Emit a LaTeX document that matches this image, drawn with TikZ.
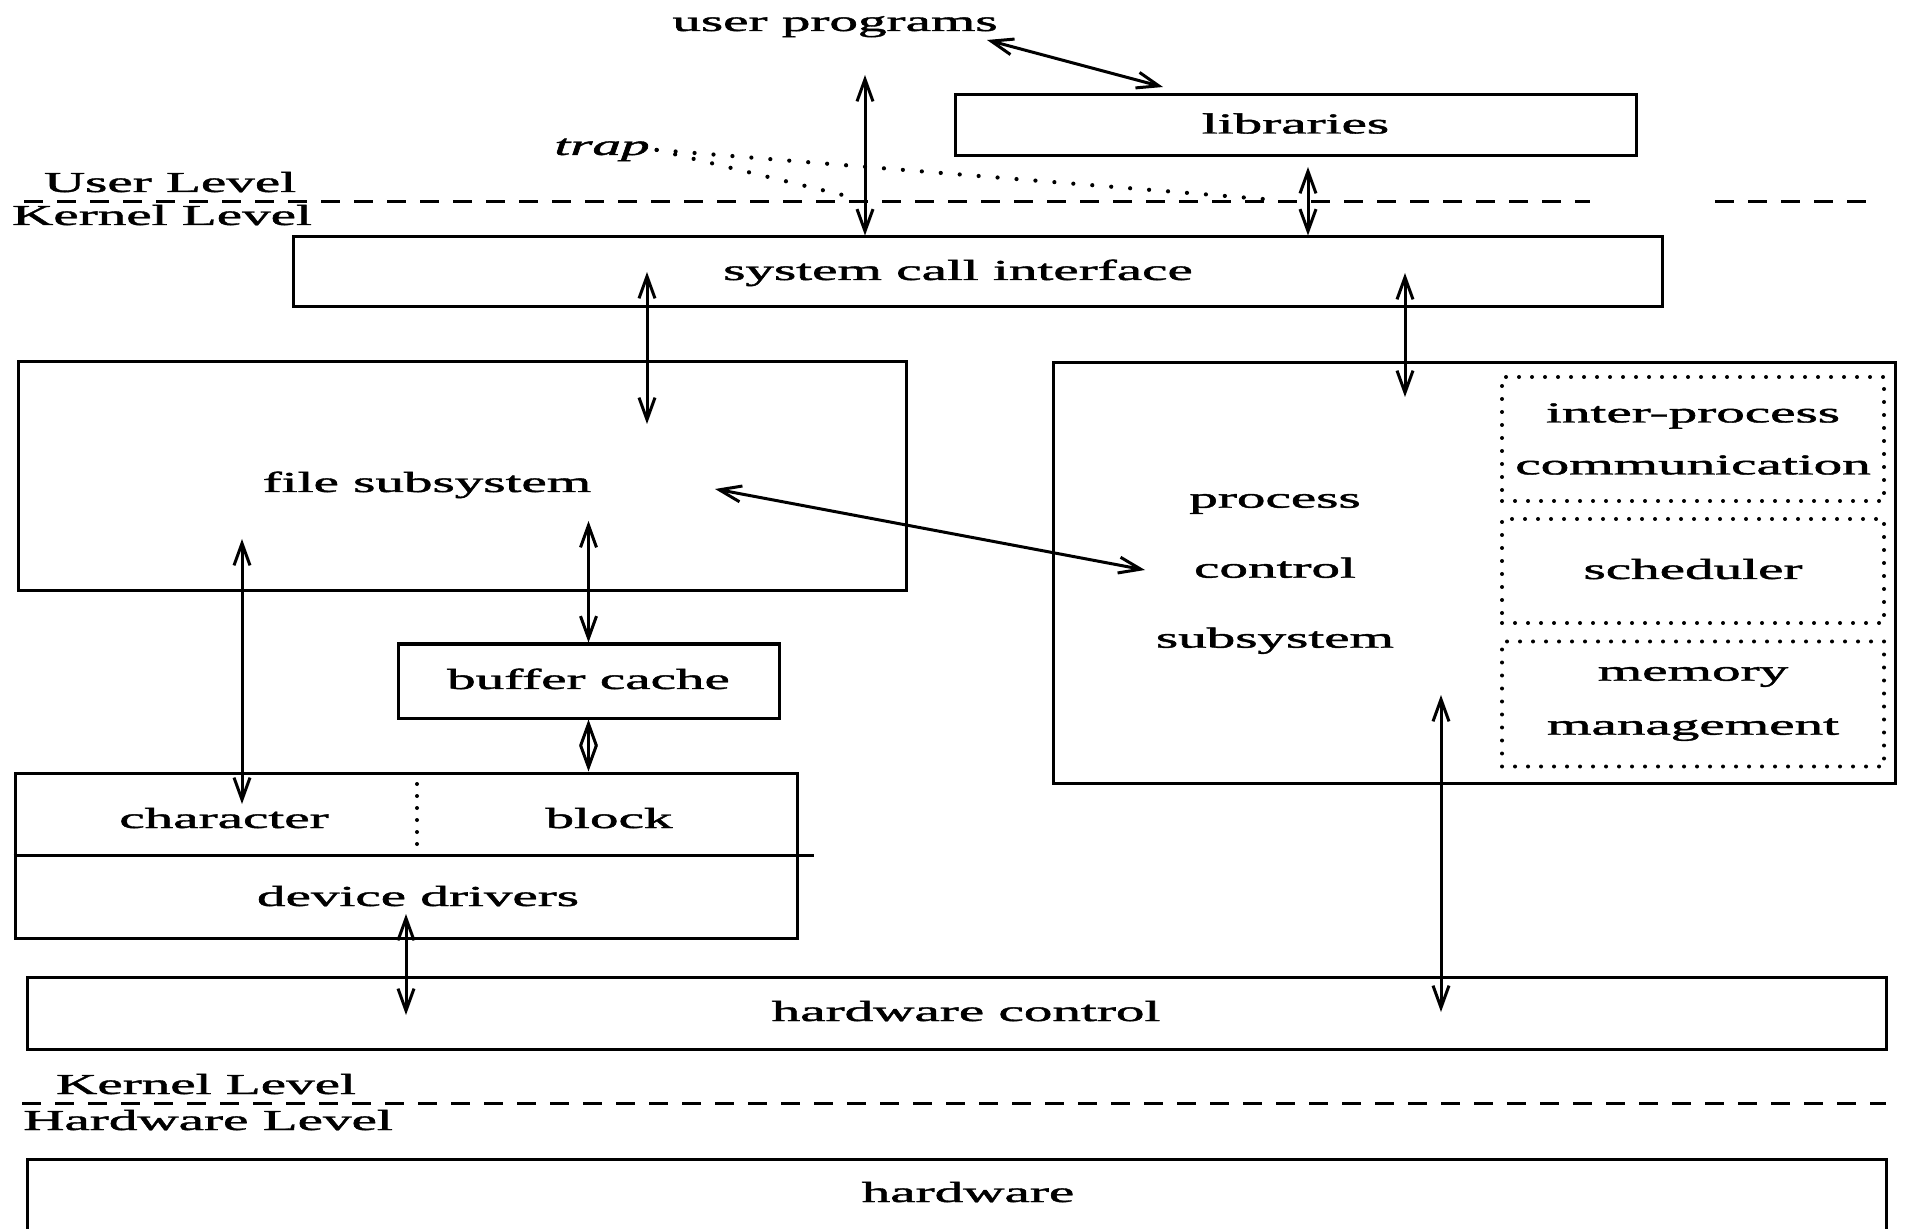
\documentclass[tikz,border=0pt]{standalone}
\usepackage{fontspec}
\setmainfont{Liberation Serif}
\newfontfamily\heavy{Liberation Serif}[FakeBold=1.2]
\usetikzlibrary{arrows.meta}
\newcommand{\sx}[1]{\scalebox{1.97}[1]{#1}}
\tikzset{
  box/.style={draw, line width=1.5pt, inner sep=0pt},
  intext/.style={text height=10.9pt, text depth=2.9pt},
  dotbox/.style={draw, line width=2pt, line cap=round, dash pattern=on 0pt off 6.5pt, inner sep=0pt},
  dots/.style={line width=2pt, line cap=round, dash pattern=on 0pt off 6pt},
  twoway/.style={{Straight Barb[length=11pt,width=8pt]}-{Straight Barb[length=11pt,width=8pt]}, line width=1.5pt},
  levelline/.style={line width=1.5pt, dash pattern=on 9.5pt off 7pt},
  trapline/.style={line width=2.1pt, line cap=round, dash pattern=on 0pt off 9.5pt}
}

\begin{document}
\begin{tikzpicture}[x=0.5pt, y=-0.5pt, font=\heavy\fontsize{14.5}{26}\selectfont]
    \useasboundingbox (0,0) rectangle (1906,1229);

    % user side
    \node[anchor=base] (up) at (835,31) {\sx{user programs}};
    \node[box, intext, minimum width=340.5pt, minimum height=30.5pt] (lib) at (1295.5,125.5) {\sx{libraries}};
    \node[anchor=base] (trap) at (602,155) {\sx{\textit{trap}}};
    \node[anchor=base] (ul) at (170,192) {\sx{User Level}};
    \node[anchor=base] (kl) at (162,225) {\sx{Kernel Level}};
    \draw[levelline] (24,202) -- (1590,202);
    \draw[levelline] (1715,202) -- (1878,202);

    % kernel
    \node[box, minimum width=684.5pt, minimum height=35pt] (sci) at (977.5,272) {};
    \node[anchor=base] (scitext) at (958,280) {\sx{system call interface}};
    \node[box, minimum width=444pt, minimum height=114.5pt] (fs) at (462,476.5) {};
    \node[anchor=base] (fstext) at (427,492) {\sx{file subsystem}};
    \node[box, intext, minimum width=190.5pt, minimum height=37pt] (buf) at (588.5,681) {\sx{buffer cache}};
    \node[box, minimum width=391pt, minimum height=82.5pt] (dd) at (406,855.5) {};
    \node[anchor=base] (chr) at (224,828) {\sx{character}};
    \node[anchor=base] (blk) at (609,828) {\sx{block}};
    \node[anchor=base] (ddtext) at (418,906) {\sx{device drivers}};
    \draw[line width=1.5pt] (dd.west) -- ([xshift=7.5pt]dd.east);
    \draw[dots] (417,784) -- (417,846);

    \node[box, minimum width=421pt, minimum height=210pt] (pc) at (1474,573) {};
    \node[align=center, font=\heavy\fontsize{14.5}{35}\selectfont] (pctext) at (1275,574) {\sx{process}\\\sx{control}\\\sx{subsystem}};
    \node[dotbox, align=center, minimum width=191pt, minimum height=62pt] (ipc) at (1693,439) {\sx{inter-process}\\\sx{communication}};
    \node[dotbox, intext, minimum width=191pt, minimum height=52pt] (sched) at (1693,571) {\sx{scheduler}};
    \node[dotbox, align=center, font=\heavy\fontsize{14.5}{27}\selectfont, minimum width=191pt, minimum height=62.5pt] (mm) at (1693,704) {\sx{memory}\\\sx{management}};

    \node[box, minimum width=929.5pt, minimum height=36pt] (hwc) at (956.5,1013) {};
    \node[anchor=base] (hwctext) at (966,1021) {\sx{hardware control}};
    \node[anchor=base] (kl2) at (206,1094) {\sx{Kernel Level}};
    \node[anchor=base] (hl) at (208,1130) {\sx{Hardware Level}};
    \draw[levelline] (22,1103) -- (1886,1103);
    \node[box, minimum width=929.5pt, minimum height=45pt] (hw) at (956.5,1204) {};
    \node[anchor=base] (hwtext) at (968,1202) {\sx{hardware}};

    % arrow ends
    \coordinate (upA) at (865,75);
    \coordinate (upB) at (987,40);
    \coordinate (libA) at (1163,87);
    \coordinate (libB) at (1308,167);
    \coordinate (sciA) at (647,272);
    \coordinate (sciB) at (1405,273);
    \coordinate (fsA) at (647,424);
    \coordinate (fsB) at (715,489);
    \coordinate (fsC) at (588.5,521);
    \coordinate (fsD) at (242,539);
    \coordinate (pcA) at (1405,397);
    \coordinate (pcB) at (1145,570);
    \coordinate (pcC) at (1441,695);
    \coordinate (chA) at (242,804);
    \coordinate (ddA) at (406,914);
    \coordinate (hwA) at (406,1015);
    \coordinate (hwB) at (1441,1012);
    \coordinate (trapA) at (1275,200);
    \coordinate (trapB) at (855,198);

    \draw[trapline] (trap.east) -- (trapA);
    \draw[trapline] (trap.east) -- (trapB);

    \draw[twoway] (upA) -- (upA |- sci.north);
    \draw[twoway] (upB) -- (libA);
    \draw[twoway] (libB) -- (libB |- sci.north);
    \draw[twoway] (sciA) -- (fsA);
    \draw[twoway] (sciB) -- (pcA);
    \draw[twoway] (fsB) -- (pcB);
    \draw[twoway] (fsC) -- (buf.north);
    \draw[twoway] (buf.south) -- (buf.south |- dd.north);
    \draw[twoway] (fsD) -- (chA);
    \draw[twoway] (ddA) -- (hwA);
    \draw[twoway] (pcC) -- (hwB);
\end{tikzpicture}
\end{document}
